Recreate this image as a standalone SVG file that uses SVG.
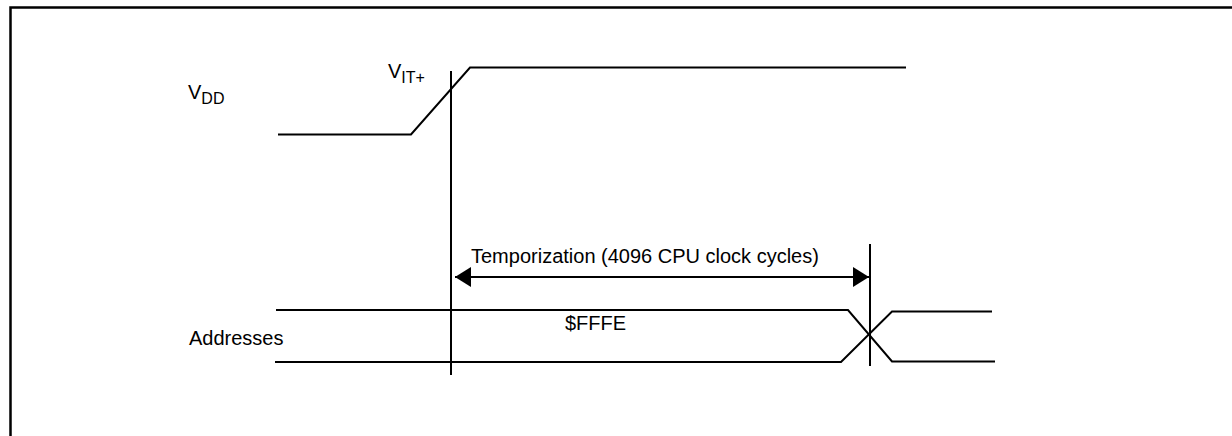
<svg xmlns="http://www.w3.org/2000/svg" width="1232" height="436" viewBox="0 0 1232 436">
  <style>
    .ln { fill: none; stroke: #000; stroke-width: 2; }
    .frame { fill: none; stroke: #000; stroke-width: 2.5; }
    .txt { font-family: "Liberation Sans", Arial, sans-serif; font-size: 20px; fill: #000; }
    .sub { font-size: 16px; }
  </style>
  <defs>
    <marker id="ah" viewBox="0 0 16 20" refX="16" refY="10" markerWidth="16" markerHeight="20" markerUnits="userSpaceOnUse" orient="auto-start-reverse">
      <path d="M0,0 L16,10 L0,20 Z" fill="#000"/>
    </marker>
  </defs>
  <rect width="1232" height="436" fill="#fff"/>
  <!-- frame -->
  <path class="frame" d="M10.5,450 L10.5,7.5 L1240,7.5"/>

  <g id="vdd-signal">
    <text class="txt" x="188" y="99">V<tspan class="sub" dy="5">DD</tspan></text>
    <path class="ln" d="M278,134.5 L411,134.5 L470,67.5 L906,67.5"/>
  </g>

  <g id="vit-marker">
    <text class="txt" x="388" y="78">V<tspan class="sub" dy="5">IT+</tspan></text>
    <line class="ln" x1="451" y1="71" x2="451" y2="375"/>
  </g>

  <g id="end-marker">
    <line class="ln" x1="870" y1="244" x2="870" y2="366"/>
  </g>

  <g id="addresses-bus">
    <text class="txt" x="189" y="345">Addresses</text>
    <text class="txt" x="565" y="330">$FFFE</text>
    <path class="ln" d="M276,310 L848,310 L892,361.5 L995,361.5"/>
    <path class="ln" d="M275,362 L841,362 L892,311.5 L992,311.5"/>
  </g>

  <g id="connectors">
    <line class="ln" x1="455" y1="277" x2="869" y2="277" marker-start="url(#ah)" marker-end="url(#ah)"/>
    <text class="txt" x="471" y="263">Temporization (4096 CPU clock cycles)</text>
  </g>
</svg>
